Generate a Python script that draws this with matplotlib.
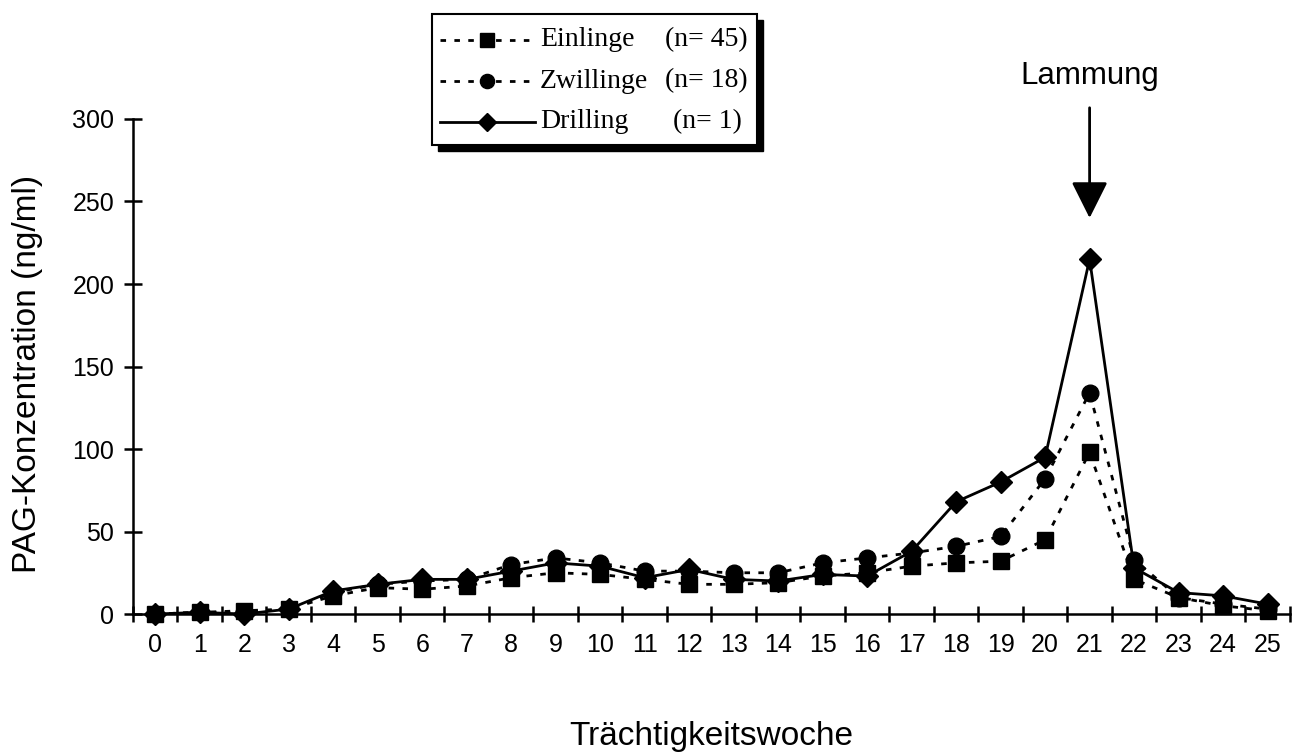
import matplotlib
matplotlib.use('Agg')
import matplotlib.pyplot as plt
from matplotlib.patches import Rectangle
from matplotlib.lines import Line2D
import numpy as np

weeks = list(range(26))
einlinge = [0, 1, 2, 3, 11, 16, 15, 17, 22, 25, 24, 21, 18, 18, 19, 23, 25, 29, 31, 32, 45, 98, 21, 10, 5, 2]
zwillinge = [0, 1, 1, 3, 13, 18, 20, 21, 30, 34, 31, 26, 26, 25, 25, 31, 34, 37, 41, 47, 82, 134, 33, 10, 6, 3]
drilling = [0, 1, 0, 3, 14, 18, 21, 21, 26, 31, 29, 22, 27, 21, 20, 24, 23, 38, 68, 80, 95, 215, 28, 13, 11, 6]
labels = ['Einlinge', 'Zwillinge', 'Drilling']
counts = ['(n= 45)', '(n= 18)', '(n= 1)']
lammung_week = 21

plt.rcParams['font.family'] = ['Liberation Sans', 'DejaVu Sans']

fig = plt.figure(figsize=(12.95, 7.56), dpi=100)
ax = fig.add_axes([0.1027, 0.1878, 0.8933, 0.6548])

dots = (0, (2, 3))
ax.plot(weeks, einlinge, color='black', lw=2, linestyle=dots, marker='s',
        markersize=12, clip_on=False, zorder=3)
ax.plot(weeks, zwillinge, color='black', lw=2, linestyle=dots, marker='o',
        markersize=12, clip_on=False, zorder=4)
ax.plot(weeks, drilling, color='black', lw=2, linestyle='-', marker='D',
        markersize=11, clip_on=False, zorder=5)

ax.set_xlim(-0.5, 25.5)
ax.set_ylim(0, 300)
ax.set_xticks(weeks)
ax.set_xticks(np.arange(-0.5, 26, 1), minor=True)
ax.set_yticks(range(0, 301, 50))
ax.tick_params(axis='x', which='major', length=0, labelsize=18, pad=14)
ax.tick_params(axis='x', which='minor', direction='inout', length=12, width=1.8)
ax.tick_params(axis='y', direction='inout', length=13, width=1.8, labelsize=18, pad=7)
for s in ['top', 'right']:
    ax.spines[s].set_visible(False)
for s in ['left', 'bottom']:
    ax.spines[s].set_linewidth(1.8)

ax.set_ylabel('PAG-Konzentration (ng/ml)', fontsize=24)
ax.yaxis.set_label_coords(-0.078, 0.485)
fig.text(0.5 * (0.1027 + 0.996), 1 - 745 / 756, 'Trächtigkeitswoche',
         fontsize=24, ha='center', va='baseline')

ax.annotate('Lammung', xy=(lammung_week, 240), xytext=(lammung_week, 326),
            ha='center', va='center', fontsize=22.5, annotation_clip=False,
            arrowprops=dict(arrowstyle='-|>,head_width=0.45,head_length=0.9',
                            color='black', lw=2, mutation_scale=25,
                            shrinkA=10, shrinkB=0))

# legend box with drop shadow
lx0, ly0, lw_, lh = 432 / 1295, 1 - 145 / 756, 325 / 1295, 131 / 756
fig.patches.append(Rectangle((lx0 + 6 / 1295, ly0 - 6 / 756), lw_, lh,
                             transform=fig.transFigure, facecolor='black',
                             edgecolor='black', zorder=1))
fig.patches.append(Rectangle((lx0, ly0), lw_, lh, transform=fig.transFigure,
                             facecolor='white', edgecolor='black', lw=1.5, zorder=2))
styles = [(dots, 's', 12), (dots, 'o', 12), ('-', 'D', 11)]
for i, (lab, cnt, (ls, mk, ms)) in enumerate(zip(labels, counts, styles)):
    yy = 1 - (40 + i * 41) / 756
    fig.add_artist(Line2D([440 / 1295, 535 / 1295], [yy, yy], color='black', lw=2,
                          linestyle=ls, transform=fig.transFigure, zorder=3))
    fig.add_artist(Line2D([487 / 1295], [yy], color='black', marker=mk,
                          markersize=ms * 0.85, transform=fig.transFigure, zorder=4))
    fig.text(540 / 1295, yy, lab, fontsize=20, va='center', ha='left',
             family='Liberation Serif', zorder=5)
    fig.text((665 if i < 2 else 673) / 1295, yy, cnt, fontsize=20, va='center',
             ha='left', family='Liberation Serif', zorder=5)

fig.savefig('out.png', dpi=100)
